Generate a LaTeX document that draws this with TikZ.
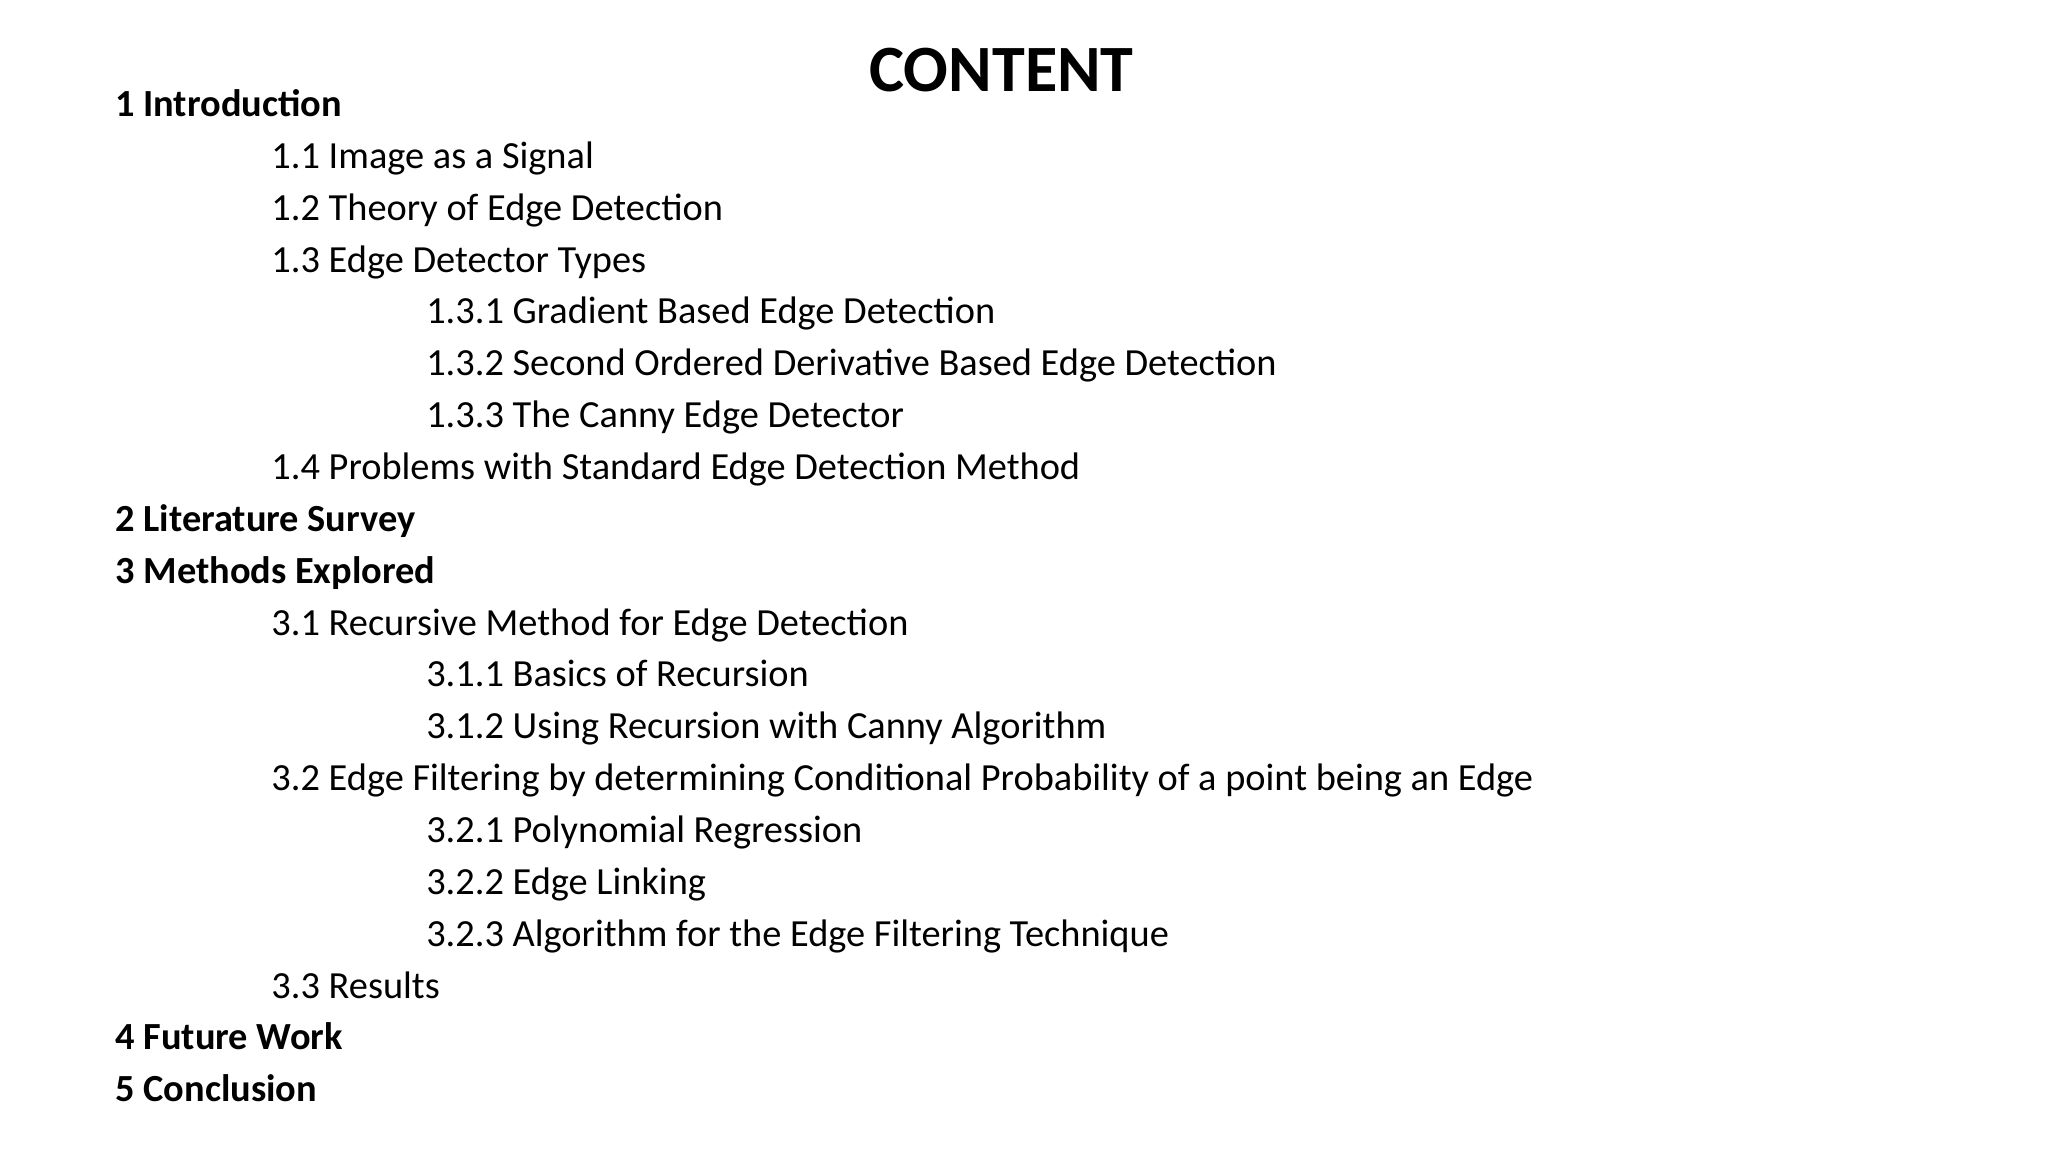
\documentclass[tikz,border=0pt]{standalone}
\usepackage{fontspec}
\setmainfont{Carlito}
\begin{document}
\begin{tikzpicture}[x=1pt,y=-1pt,
  it/.style={anchor=base west,inner sep=0pt,font=\fontsize{29}{30}\selectfont},
  bt/.style={it,font=\fontsize{29}{30}\selectfont\bfseries}]
\useasboundingbox (0,0) rectangle (1548,871);
\node[anchor=base,inner sep=0pt,font=\fontsize{50}{54}\selectfont\bfseries] (title) at (757,69) {CONTENT};
\def\L{87}\def\M{205}\def\N{322}
\node[bt] (a) at (\L,88) {1 Introduction};
\node[it] (a1) at (\M,127.2) {1.1 Image as a Signal};
\node[it] (a2) at (\M,166.4) {1.2 Theory of Edge Detection};
\node[it] (a3) at (\M,205.6) {1.3 Edge Detector Types};
\node[it] (a31) at (\N,244.8) {1.3.1 Gradient Based Edge Detection};
\node[it] (a32) at (\N,284) {1.3.2 Second Ordered Derivative Based Edge Detection};
\node[it] (a33) at (\N,323.2) {1.3.3 The Canny Edge Detector};
\node[it] (a4) at (\M,362.4) {1.4 Problems with Standard Edge Detection Method};
\node[bt] (b) at (\L,401.6) {2 Literature Survey};
\node[bt] (c) at (\L,440.8) {3 Methods Explored};
\node[it] (c1) at (\M,480) {3.1 Recursive Method for Edge Detection};
\node[it] (c11) at (\N,519.2) {3.1.1 Basics of Recursion};
\node[it] (c12) at (\N,558.4) {3.1.2 Using Recursion with Canny Algorithm};
\node[it] (c2) at (\M,597.6) {3.2 Edge Filtering by determining Conditional Probability of a point being an Edge};
\node[it] (c21) at (\N,636.8) {3.2.1 Polynomial Regression};
\node[it] (c22) at (\N,676) {3.2.2 Edge Linking};
\node[it] (c23) at (\N,715.2) {3.2.3 Algorithm for the Edge Filtering Technique};
\node[it] (c3) at (\M,754.4) {3.3 Results};
\node[bt] (d) at (\L,793.6) {4 Future Work};
\node[bt] (e) at (\L,832.8) {5 Conclusion};
\end{tikzpicture}
\end{document}
